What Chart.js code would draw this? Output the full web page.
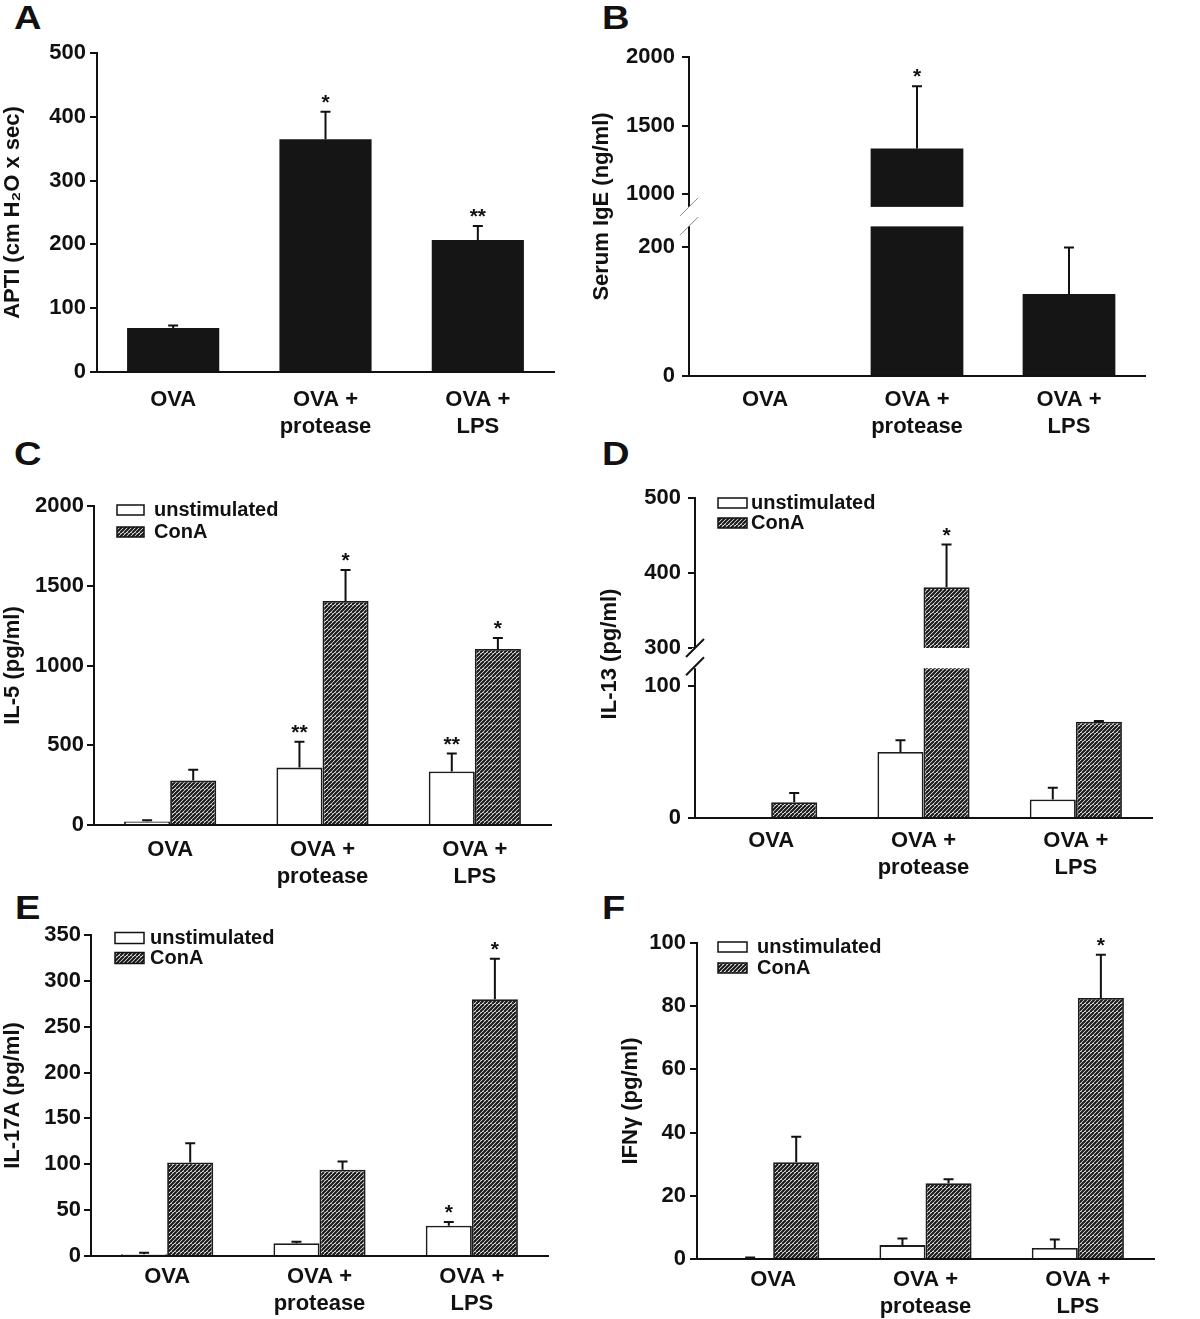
<!DOCTYPE html>
<html>
<head>
<meta charset="utf-8">
<script src="https://cdn.jsdelivr.net/npm/chart.js@4.4.1/dist/chart.umd.min.js"></script>
<style>
  body { margin: 0; background: #fff; }
  #page { position: relative; width: 1200px; height: 1319px; overflow: hidden; background: #fff; }
  #page canvas { position: absolute; }
  .letter { position: absolute; font: bold 34px 'Liberation Sans', Arial, sans-serif; line-height: 34px; color: #111; transform: scaleX(1.12); transform-origin: left top; }
</style>
</head>
<body>
<div id="page">
  <div class="letter" style="left:14px;top:0px">A</div>
  <div class="letter" style="left:602px;top:0px">B</div>
  <div class="letter" style="left:14px;top:436px">C</div>
  <div class="letter" style="left:602px;top:436px">D</div>
  <div class="letter" style="left:15px;top:890px">E</div>
  <div class="letter" style="left:602px;top:890px">F</div>
  <canvas id="chartA" width="590" height="445" style="left:0;top:0"></canvas>
  <canvas id="chartB" width="610" height="445" style="left:590px;top:0"></canvas>
  <canvas id="chartC" width="590" height="455" style="left:0;top:445px"></canvas>
  <canvas id="chartD" width="610" height="455" style="left:590px;top:445px"></canvas>
  <canvas id="chartE" width="590" height="419" style="left:0;top:900px"></canvas>
  <canvas id="chartF" width="610" height="419" style="left:590px;top:900px"></canvas>
</div>
<script>
// groups on the x axis
const groups = [['OVA'], ['OVA +', 'protease'], ['OVA +', 'LPS']];

// A - APTI
const aptiMean = [69, 365, 207];
const aptiErr = [4, 43, 22];
const aptiStars = ['', '*', '**'];
const aptiTicks = [0, 100, 200, 300, 400, 500];

// B - serum IgE (broken axis)
const igeMean = [0, 1333, 127];
const igeErr = [0, 454, 72];
const igeStars = ['', '*', ''];
const igeGap = [232, 908];
const igeTicksLow = [0, 200];
const igeTicksHigh = [1000, 1500, 2000];

// C - IL-5
const il5Unstim = [22, 360, 336];
const il5UnstimErr = [8, 162, 112];
const il5UnstimStars = ['', '**', '**'];
const il5ConA = [279, 1405, 1104];
const il5ConAErr = [68, 193, 69];
const il5ConAStars = ['', '*', '*'];
const il5Ticks = [0, 500, 1000, 1500, 2000];

// D - IL-13 (broken axis)
const il13Unstim = [0, 50, 14];
const il13UnstimErr = [0, 9, 9];
const il13ConA = [12, 381, 73];
const il13ConAErr = [7, 57, 0.5];
const il13ConAStars = ['', '*', ''];
const il13Gap = [115, 300];
const il13TicksLow = [0, 100];
const il13TicksHigh = [300, 400, 500];

// E - IL-17A
const il17Unstim = [2, 14, 33];
const il17UnstimErr = [1.5, 1.5, 4];
const il17UnstimStars = ['', '', '*'];
const il17ConA = [102, 94, 280];
const il17ConAErr = [21, 9, 44];
const il17ConAStars = ['', '', '*'];
const il17Ticks = [0, 50, 100, 150, 200, 250, 300, 350];

// F - IFNg
const ifnUnstim = [0.3, 4.4, 3.5];
const ifnUnstimErr = [0.2, 2.1, 2.7];
const ifnConA = [30.6, 24, 82.6];
const ifnConAErr = [8.1, 1.2, 13.7];
const ifnConAStars = ['', '', '*'];
const ifnTicks = [0, 20, 40, 60, 80, 100];

const FONT = "'Liberation Sans', Arial, sans-serif";
const INK = '#111';
const BLACK_BAR = '#151515';
Chart.defaults.font.family = FONT;
Chart.defaults.color = INK;

// diagonal hatch for ConA bars
const hatch = (function () {
  const c = document.createElement('canvas');
  c.width = 8; c.height = 8;
  const g = c.getContext('2d');
  g.fillStyle = '#fff';
  g.fillRect(0, 0, 8, 8);
  g.strokeStyle = '#161616';
  g.lineWidth = 2.1;
  for (let k = 0; k <= 16; k += 4) {
    g.beginPath();
    g.moveTo(k - 8, 8);
    g.lineTo(k, 0);
    g.stroke();
  }
  return g.createPattern(c, 'repeat');
})();

// split values for a broken axis
function lowPart(vals, gap) { return vals.map(v => Math.min(v, gap[0])); }
function highPart(vals, gap) { return vals.map(v => v > gap[1] ? [gap[1], v] : null); }

// error bars + significance stars
const errorBars = {
  id: 'errorBars',
  afterDatasetsDraw(chart) {
    const ctx = chart.ctx;
    chart.data.datasets.forEach((ds, di) => {
      if (!ds.means) return;
      const meta = chart.getDatasetMeta(di);
      const yScale = chart.scales[meta.yAxisID];
      meta.data.forEach((bar, i) => {
        const m = ds.means[i];
        const e = ds.errors ? ds.errors[i] : 0;
        if (m == null || m < yScale.min || m > yScale.max) return;
        const yTop = yScale.getPixelForValue(m + e);
        ctx.save();
        ctx.strokeStyle = INK;
        ctx.lineWidth = 2;
        if (e > 0) {
          ctx.beginPath();
          ctx.moveTo(bar.x, bar.y);
          ctx.lineTo(bar.x, yTop);
          ctx.moveTo(bar.x - 5, yTop);
          ctx.lineTo(bar.x + 5, yTop);
          ctx.stroke();
        }
        const star = ds.stars ? ds.stars[i] : '';
        if (star) {
          ctx.fillStyle = INK;
          ctx.font = 'bold 21px ' + FONT;
          ctx.textAlign = 'center';
          ctx.textBaseline = 'alphabetic';
          ctx.fillText(star, bar.x, yTop - 3);
        }
        ctx.restore();
      });
    });
  }
};

// legend drawn inside the plot area
const boxLegend = {
  id: 'boxLegend',
  afterDraw(chart, args, opts) {
    if (!opts || !opts.show) return;
    const { ctx, chartArea } = chart;
    const items = chart.data.datasets.filter(ds => ds.label && ds.inLegend !== false);
    items.forEach((ds, r) => {
      const cy = chartArea.top + opts.dy + r * opts.rowH;
      const bx = chartArea.left + opts.dx;
      ctx.save();
      ctx.fillStyle = ds.backgroundColor;
      ctx.fillRect(bx, cy - opts.boxH / 2, opts.boxW, opts.boxH);
      ctx.strokeStyle = INK;
      ctx.lineWidth = 1.5;
      ctx.strokeRect(bx, cy - opts.boxH / 2, opts.boxW, opts.boxH);
      ctx.fillStyle = INK;
      ctx.font = 'bold 20px ' + FONT;
      ctx.textAlign = 'left';
      ctx.textBaseline = 'middle';
      ctx.fillText(ds.label, bx + opts.boxW + opts.gap, cy);
      ctx.restore();
    });
  }
};

// gap + slashes on a broken value axis
const axisBreak = {
  id: 'axisBreak',
  afterDraw(chart, args, opts) {
    if (!opts || !opts.gap) return;
    const { ctx, chartArea } = chart;
    const lo = chart.scales.yLow, hi = chart.scales.yHigh;
    const yTop = hi.getPixelForValue(opts.gap[1]);
    const yBot = lo.getPixelForValue(opts.gap[0]);
    const ax = chartArea.left;
    ctx.save();
    ctx.fillStyle = '#fff';
    ctx.fillRect(ax - 3, yTop, chartArea.right - ax + 3, yBot - yTop + opts.extra);
    ctx.strokeStyle = opts.color;
    ctx.lineWidth = opts.width;
    [yTop, yBot].forEach(y => {
      ctx.beginPath();
      ctx.moveTo(ax - 9, y + 9);
      ctx.lineTo(ax + 9, y - 9);
      ctx.stroke();
    });
    ctx.restore();
  }
};

// one title for two stacked axes
const stackTitle = {
  id: 'stackTitle',
  afterDraw(chart, args, opts) {
    if (!opts || !opts.text) return;
    const { ctx, chartArea } = chart;
    ctx.save();
    ctx.translate(opts.x, (chartArea.top + chartArea.bottom) / 2 + opts.dy);
    ctx.rotate(-Math.PI / 2);
    ctx.fillStyle = INK;
    ctx.font = 'bold 22px ' + FONT;
    ctx.textAlign = 'center';
    ctx.textBaseline = 'middle';
    ctx.fillText(opts.text, 0, 0);
    ctx.restore();
  }
};

function yAxis(o) {
  const ax = {
    type: 'linear',
    position: 'left',
    min: o.min,
    max: o.max,
    stacked: false,
    grid: { display: true, drawOnChartArea: false, drawTicks: true, tickLength: 7, lineWidth: 2, color: INK },
    border: { display: true, width: 2, color: INK },
    ticks: { padding: o.tickPad, color: INK, font: { size: 22, weight: 'bold' }, callback: v => String(v) },
    title: o.title
      ? { display: true, text: o.title, color: INK, font: { size: 22, weight: 'bold' }, padding: { top: o.titlePad || 0, bottom: 0 } }
      : { display: false },
    afterBuildTicks: s => { s.ticks = o.ticks.map(v => ({ value: v })); },
    afterFit: s => { s.width = o.width; s.paddingTop = 0; s.paddingBottom = 0; }
  };
  if (o.stackWeight) {
    ax.stack = 'v';
    ax.stackWeight = o.stackWeight;
    ax.weight = o.weight;
  }
  return ax;
}

function xAxis(o) {
  return {
    type: 'category',
    grid: { display: false, drawTicks: false },
    border: { display: true, width: 2, color: INK },
    ticks: { padding: o.labelPad, color: INK, autoSkip: false, maxRotation: 0, font: { size: 22, weight: 'bold', lineHeight: 1.2 } },
    afterFit: s => { s.height = o.height; s.paddingLeft = 0; s.paddingRight = 0; }
  };
}

function baseOptions(pad, scales, plugins, catPct, barPct) {
  return {
    responsive: false,
    animation: false,
    layout: { padding: pad },
    categoryPercentage: catPct,
    barPercentage: barPct,
    scales: scales,
    plugins: Object.assign({ legend: { display: false }, tooltip: { enabled: false } }, plugins)
  };
}

const whiteBar = { backgroundColor: '#fff', borderColor: '#1c1c1c', borderWidth: 1.8 };
const hatchBar = { backgroundColor: hatch, borderColor: '#1c1c1c', borderWidth: 1.8 };
const plugins = [errorBars, boxLegend, axisBreak, stackTitle];

// A
new Chart(document.getElementById('chartA'), {
  type: 'bar',
  data: {
    labels: groups,
    datasets: [{ data: aptiMean, means: aptiMean, errors: aptiErr, stars: aptiStars, backgroundColor: BLACK_BAR, borderWidth: 0 }]
  },
  options: baseOptions({ left: 0, top: 53, right: 36, bottom: 0 }, {
    x: xAxis({ height: 73, labelPad: 15 }),
    y: yAxis({ min: 0, max: 500, ticks: aptiTicks, width: 97, tickPad: 4, title: 'APTI (cm H\u2082O x sec)', titlePad: 0 })
  }, {}, 0.605, 1),
  plugins: plugins
});

// B
new Chart(document.getElementById('chartB'), {
  type: 'bar',
  data: {
    labels: groups,
    datasets: [
      { data: lowPart(igeMean, igeGap), yAxisID: 'yLow', stack: 'a', means: igeMean, errors: igeErr, stars: igeStars, backgroundColor: BLACK_BAR, borderWidth: 0 },
      { data: highPart(igeMean, igeGap), yAxisID: 'yHigh', stack: 'a', means: igeMean, errors: igeErr, stars: igeStars, backgroundColor: BLACK_BAR, borderWidth: 0 }
    ]
  },
  options: baseOptions({ left: 0, top: 57, right: 55, bottom: 0 }, {
    x: xAxis({ height: 69, labelPad: 11 }),
    yLow: yAxis({ min: 0, max: 247, ticks: igeTicksLow, width: 99, tickPad: 7, stackWeight: 160, weight: 1 }),
    yHigh: yAxis({ min: 838, max: 2000, ticks: igeTicksHigh, width: 99, tickPad: 7, stackWeight: 160, weight: 2 })
  }, {
    axisBreak: { gap: igeGap, color: '#888', width: 1, extra: 0 },
    stackTitle: { text: 'Serum IgE (ng/ml)', x: 12, dy: -10 }
  }, 0.61, 1),
  plugins: plugins
});

// C
new Chart(document.getElementById('chartC'), {
  type: 'bar',
  data: {
    labels: groups,
    datasets: [
      Object.assign({ label: 'unstimulated', data: il5Unstim, means: il5Unstim, errors: il5UnstimErr, stars: il5UnstimStars }, whiteBar),
      Object.assign({ label: 'ConA', data: il5ConA, means: il5ConA, errors: il5ConAErr, stars: il5ConAStars }, hatchBar)
    ]
  },
  options: baseOptions({ left: 0, top: 61, right: 39, bottom: 0 }, {
    x: xAxis({ height: 75, labelPad: 12 }),
    y: yAxis({ min: 0, max: 2000, ticks: il5Ticks, width: 94, tickPad: 3, title: 'IL-5 (pg/ml)', titlePad: 0 })
  }, {
    boxLegend: { show: true, dx: 23, dy: 4, rowH: 22, boxW: 27, boxH: 10, gap: 10 }
  }, 0.605, 1),
  plugins: plugins
});

// D
new Chart(document.getElementById('chartD'), {
  type: 'bar',
  data: {
    labels: groups,
    datasets: [
      Object.assign({ label: 'unstimulated', data: lowPart(il13Unstim, il13Gap), yAxisID: 'yLow', stack: 'u', means: il13Unstim, errors: il13UnstimErr }, whiteBar),
      Object.assign({ label: 'ConA', data: lowPart(il13ConA, il13Gap), yAxisID: 'yLow', stack: 'c', means: il13ConA, errors: il13ConAErr, stars: il13ConAStars }, hatchBar),
      Object.assign({ label: 'unstimulated', inLegend: false, data: highPart(il13Unstim, il13Gap), yAxisID: 'yHigh', stack: 'u', means: il13Unstim, errors: il13UnstimErr }, whiteBar),
      Object.assign({ label: 'ConA', inLegend: false, data: highPart(il13ConA, il13Gap), yAxisID: 'yHigh', stack: 'c', means: il13ConA, errors: il13ConAErr, stars: il13ConAStars }, hatchBar)
    ]
  },
  options: baseOptions({ left: 0, top: 53, right: 48, bottom: 0 }, {
    x: xAxis({ height: 82, labelPad: 10 }),
    yLow: yAxis({ min: 0, max: 122, ticks: il13TicksLow, width: 105, tickPad: 7, stackWeight: 161, weight: 1 }),
    yHigh: yAxis({ min: 288, max: 500, ticks: il13TicksHigh, width: 105, tickPad: 7, stackWeight: 159, weight: 2 })
  }, {
    boxLegend: { show: true, dx: 23, dy: 5, rowH: 20, boxW: 29, boxH: 10, gap: 4 },
    axisBreak: { gap: il13Gap, color: INK, width: 2, extra: 2 },
    stackTitle: { text: 'IL-13 (pg/ml)', x: 20, dy: -4 }
  }, 0.605, 1),
  plugins: plugins
});

// E
new Chart(document.getElementById('chartE'), {
  type: 'bar',
  data: {
    labels: groups,
    datasets: [
      Object.assign({ label: 'unstimulated', data: il17Unstim, means: il17Unstim, errors: il17UnstimErr, stars: il17UnstimStars }, whiteBar),
      Object.assign({ label: 'ConA', data: il17ConA, means: il17ConA, errors: il17ConAErr, stars: il17ConAStars }, hatchBar)
    ]
  },
  options: baseOptions({ left: 0, top: 35, right: 42, bottom: 0 }, {
    x: xAxis({ height: 63, labelPad: 8 }),
    y: yAxis({ min: 0, max: 350, ticks: il17Ticks, width: 91, tickPad: 3, title: 'IL-17A (pg/ml)', titlePad: 0 })
  }, {
    boxLegend: { show: true, dx: 24, dy: 3, rowH: 20, boxW: 29, boxH: 11, gap: 6 }
  }, 0.605, 1),
  plugins: plugins
});

// F
new Chart(document.getElementById('chartF'), {
  type: 'bar',
  data: {
    labels: groups,
    datasets: [
      Object.assign({ label: 'unstimulated', data: ifnUnstim, means: ifnUnstim, errors: ifnUnstimErr }, whiteBar),
      Object.assign({ label: 'ConA', data: ifnConA, means: ifnConA, errors: ifnConAErr, stars: ifnConAStars }, hatchBar)
    ]
  },
  options: baseOptions({ left: 0, top: 43, right: 46, bottom: 0 }, {
    x: xAxis({ height: 60, labelPad: 8 }),
    y: yAxis({ min: 0, max: 100, ticks: ifnTicks, width: 107, tickPad: 4, title: 'IFN\u03b3 (pg/ml)', titlePad: 28 })
  }, {
    boxLegend: { show: true, dx: 21, dy: 4, rowH: 21, boxW: 29, boxH: 10, gap: 10 }
  }, 0.605, 1),
  plugins: plugins
});
</script>
</body>
</html>
